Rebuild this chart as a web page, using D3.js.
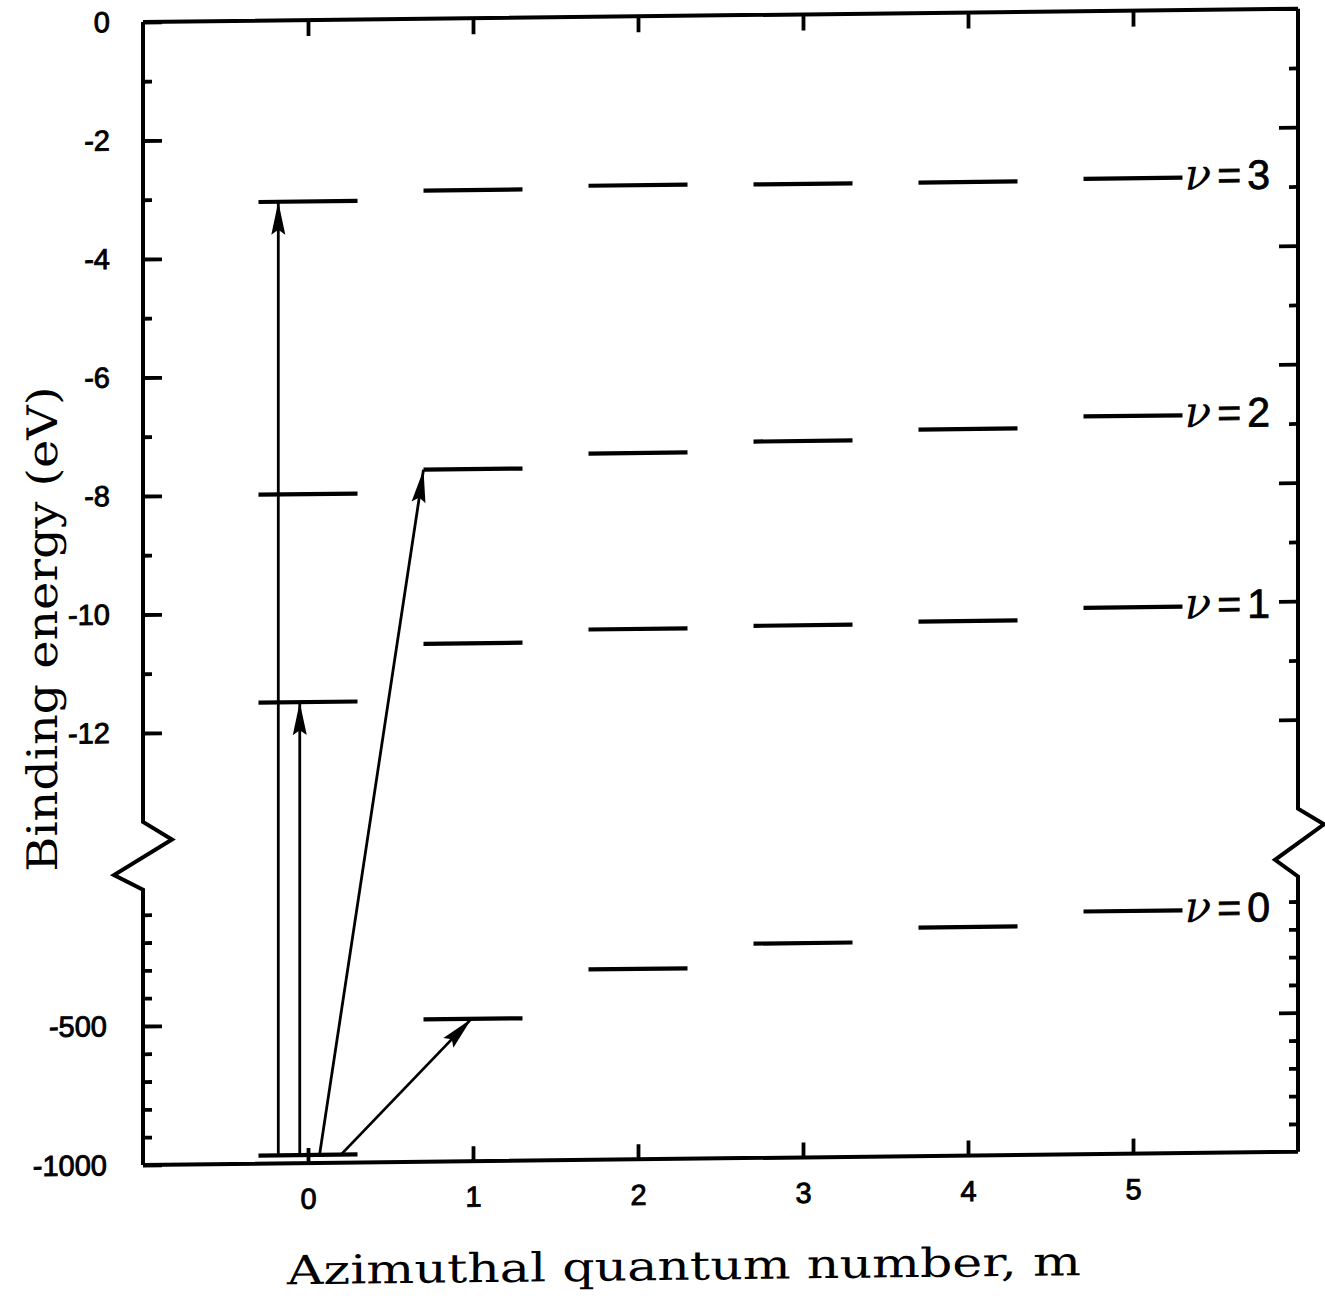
<!DOCTYPE html>
<html>
<head>
<meta charset="utf-8">
<script src="https://cdn.jsdelivr.net/npm/d3@7"></script>
<style>
  html, body { margin: 0; padding: 0; background: #fff; }
  svg { display: block; }
  .tick text { font-family: "Liberation Sans", Arial, sans-serif; font-size: 29px; fill: #000; stroke: #000; stroke-width: 0.9px; }
  .tick line { stroke: #000; stroke-width: 3.8px; }
</style>
</head>
<body>
<div id="chart"></div>
<script>
'use strict';

// azimuthal quantum numbers and the nu bands
const mValues = [0, 1, 2, 3, 4, 5];
const nuLabels = ["0", "1", "2", "3"];

// level energies, one array per band (nu=0 uses the lower axis scale)
const levelsNu0 = [-971, -488, -315, -229, -178, -127];
const levelsNu1 = [-11.51, -10.55, -10.34, -10.31, -10.27, -10.07];
const levelsNu2 = [-8.00, -7.61, -7.37, -7.20, -7.03, -6.84];
const levelsNu3 = [-3.06, -2.90, -2.85, -2.86, -2.86, -2.83];
const bands = [levelsNu0, levelsNu1, levelsNu2, levelsNu3];

// axis ticks
const upperMajor = [0, -2, -4, -6, -8, -10, -12];
const upperMinor = [-1, -3, -5, -7, -9, -11];
const lowerMajor = [-500, -1000];
const lowerMinor = [-100, -200, -300, -400, -600, -700, -800, -900];
const xTicks = [0, 1, 2, 3, 4, 5];

// transitions: start on the nu=0, m=0 level at x0, end at x1 on level (nu, m)
const arrows = [
  {x0: -0.18, x1: -0.18, nu: 3, m: 0},
  {x0: -0.05, x1: -0.05, nu: 1, m: 0},
  {x0: 0.07, x1: 0.70, nu: 2, m: 1},
  {x0: 0.20, x1: 0.99, nu: 0, m: 1},
];

const halfWidth = 0.3;   // half length of a level bar, in m units
const breakTop = -13.5;  // where the upper axis stops (eV)
const breakBottom = -10; // where the lower axis starts

const W = 1325, H = 1296;
const plotLeft = 143, plotRight = 1298, plotTop = 22, plotBottom = 1165;
const skew = -0.0115; // the scan is slightly sheared

const x = d3.scaleLinear().domain([-1, 6]).range([plotLeft, plotRight]);
const yUp = d3.scaleLinear().domain([0, -12]).range([plotTop, 733]);
const yLow = d3.scaleLinear().domain([-1000, -500]).range([plotBottom, 1026]);
const yOf = (nu, e) => nu === 0 ? yLow(e) : yUp(e);

const svg = d3.select("#chart").append("svg")
  .attr("width", W).attr("height", H)
  .attr("viewBox", `0 0 ${W} ${H}`);

svg.append("defs").append("marker")
  .attr("id", "head")
  .attr("markerUnits", "userSpaceOnUse")
  .attr("viewBox", "-34 -8 36 16")
  .attr("refX", 0).attr("refY", 0)
  .attr("markerWidth", 36).attr("markerHeight", 16)
  .attr("orient", "auto")
  .append("path")
    .attr("d", "M0,0 L-33,-7 L-28,0 L-33,7 Z")
    .attr("fill", "#000");

const g = svg.append("g")
  .attr("transform", `matrix(1, ${skew}, 0, 1, 0, ${-skew * plotLeft})`);

// left axis ticks (inside) with labels
const fmt = d => String(d);
g.append("g").attr("transform", `translate(${plotLeft},0)`)
  .call(d3.axisLeft(yUp).tickValues(upperMajor).tickSize(-19).tickPadding(33).tickFormat(fmt));
g.append("g").attr("transform", `translate(${plotLeft},0)`)
  .call(d3.axisLeft(yUp).tickValues(upperMinor).tickSize(-9).tickFormat(""));
g.append("g").attr("transform", `translate(${plotLeft},0)`)
  .call(d3.axisLeft(yLow).tickValues(lowerMajor).tickSize(-19).tickPadding(36).tickFormat(fmt));
g.append("g").attr("transform", `translate(${plotLeft},0)`)
  .call(d3.axisLeft(yLow).tickValues(lowerMinor).tickSize(-9).tickFormat(""));

// right axis ticks (inside, no labels)
g.append("g").attr("transform", `translate(${plotRight},0)`)
  .call(d3.axisRight(yUp).tickValues(upperMajor.filter(d => d !== 0)).tickSize(-19).tickFormat(""));
g.append("g").attr("transform", `translate(${plotRight},0)`)
  .call(d3.axisRight(yUp).tickValues(upperMinor).tickSize(-9).tickFormat(""));
g.append("g").attr("transform", `translate(${plotRight},0)`)
  .call(d3.axisRight(yLow).tickValues(lowerMajor.filter(d => d !== -1000)).tickSize(-19).tickFormat(""));
g.append("g").attr("transform", `translate(${plotRight},0)`)
  .call(d3.axisRight(yLow).tickValues(lowerMinor).tickSize(-9).tickFormat(""));

// top and bottom ticks
g.append("g").attr("transform", `translate(0,${plotTop})`)
  .call(d3.axisTop(x).tickValues(xTicks).tickSize(-16).tickFormat(""));
g.append("g").attr("transform", `translate(0,${plotBottom})`)
  .call(d3.axisBottom(x).tickValues(xTicks).tickSize(-15).tickPadding(25).tickFormat(fmt));

g.selectAll(".domain").remove();

// frame with broken vertical axes
const yb1 = yUp(breakTop), yb2 = yLow(breakBottom);
const frame = d3.path();
frame.moveTo(plotLeft, plotTop); frame.lineTo(plotRight, plotTop);
frame.moveTo(plotLeft, plotBottom); frame.lineTo(plotRight, plotBottom);
frame.moveTo(plotLeft, plotTop); frame.lineTo(plotLeft, yb1);
frame.lineTo(plotLeft + 29, yb1 + 18); frame.lineTo(plotLeft - 29, yb2 - 15);
frame.lineTo(plotLeft, yb2); frame.lineTo(plotLeft, plotBottom);
frame.moveTo(plotRight, plotTop); frame.lineTo(plotRight, yb1);
frame.lineTo(plotRight + 26, yb1 + 16); frame.lineTo(plotRight - 23, yb2 - 17);
frame.lineTo(plotRight, yb2); frame.lineTo(plotRight, plotBottom);
g.append("path")
  .attr("d", frame.toString())
  .attr("fill", "none")
  .attr("stroke", "#000")
  .attr("stroke-width", 4)
  .attr("stroke-linejoin", "miter");

// energy levels
bands.forEach((levels, nu) => {
  g.selectAll(null)
    .data(levels)
    .enter()
    .append("line")
      .attr("x1", (d, i) => x(mValues[i] - halfWidth))
      .attr("x2", (d, i) => x(mValues[i] + halfWidth))
      .attr("y1", d => yOf(nu, d))
      .attr("y2", d => yOf(nu, d))
      .attr("stroke", "#000")
      .attr("stroke-width", 4.2);
});

// nu labels after the m=5 bar
const last = mValues.length - 1;
const lab = g.selectAll(null)
  .data(nuLabels)
  .enter()
  .append("text")
    .attr("x", x(mValues[last] + halfWidth) + 2)
    .attr("y", (d, nu) => yOf(nu, bands[nu][last]) + 12)
    .attr("font-family", "'Liberation Sans', Arial, sans-serif")
    .attr("font-size", 41)
    .attr("letter-spacing", 6)
    .attr("fill", "#000");
lab.append("tspan")
  .attr("font-family", "'DejaVu Serif', serif")
  .attr("font-style", "italic")
  .attr("font-size", 44)
  .text("ν");
lab.append("tspan")
  .attr("stroke", "#000").attr("stroke-width", 0.8)
  .text(d => "=" + d);

// transition arrows
const base = yLow(levelsNu0[0]);
g.selectAll(null)
  .data(arrows)
  .enter()
  .append("line")
    .attr("x1", d => x(d.x0))
    .attr("y1", base)
    .attr("x2", d => x(d.x1))
    .attr("y2", d => yOf(d.nu, bands[d.nu][d.m]))
    .attr("stroke", "#000")
    .attr("stroke-width", 2.8)
    .attr("marker-end", "url(#head)");

// axis titles
g.append("text")
  .attr("x", 684).attr("y", 1286)
  .attr("text-anchor", "middle")
  .attr("font-family", "'DejaVu Serif', serif")
  .attr("font-size", 40)
  .attr("textLength", 794)
  .attr("lengthAdjust", "spacingAndGlyphs")
  .attr("fill", "#000")
  .text("Azimuthal quantum number, m");

g.append("text")
  .attr("transform", "translate(57,628) rotate(-90)")
  .attr("text-anchor", "middle")
  .attr("font-family", "'DejaVu Serif', serif")
  .attr("font-size", 42)
  .attr("textLength", 485)
  .attr("lengthAdjust", "spacingAndGlyphs")
  .attr("fill", "#000")
  .text("Binding energy (eV)");
</script>
</body>
</html>
